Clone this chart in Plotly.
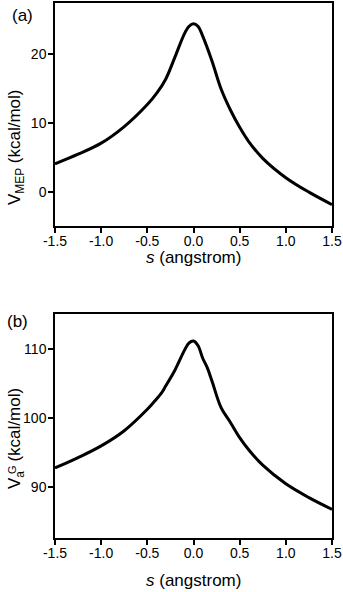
import plotly.graph_objs as go

# reaction coordinate (angstrom) and energies
s_mep = [-1.5, -1.25, -1.0, -0.75, -0.5, -0.4, -0.3, -0.2, -0.1, -0.05, 0.0,
         0.05, 0.1, 0.2, 0.3, 0.4, 0.5, 0.6, 0.75, 1.0, 1.25, 1.5]
v_mep = [4.1, 5.5, 7.1, 9.5, 12.7, 14.3, 16.4, 19.6, 22.9, 24.0, 24.4,
         24.0, 22.6, 19.0, 14.9, 11.9, 9.4, 7.3, 4.9, 2.1, 0.0, -1.8]

s_vag = [-1.5, -1.25, -1.0, -0.75, -0.5, -0.4, -0.35, -0.3, -0.2, -0.1, -0.05,
         0.0, 0.05, 0.1, 0.15, 0.2, 0.3, 0.4, 0.5, 0.6, 0.75, 1.0, 1.25, 1.5]
v_vag = [92.8, 94.3, 96.0, 98.2, 101.3, 102.8, 103.6, 104.7, 107.0, 109.8, 110.9,
         111.2, 110.5, 108.7, 107.3, 105.4, 101.5, 99.4, 97.2, 95.4, 93.2, 90.5, 88.5, 86.8]

x_ticks = [-1.5, -1.0, -0.5, 0.0, 0.5, 1.0, 1.5]
x_ticktext = ['-1.5', '-1.0', '-0.5', '0.0', '0.5', '1.0', '1.5']
y_ticks_a = [0, 10, 20]
y_ticks_b = [90, 100, 110]

W, H = 343, 592
L, R, T, B = 55, 11, 3, 54
ph = H - T - B


def py(ypx):
    # pixel row -> paper y
    return (H - B - ypx) / ph


def px(xpx):
    return (xpx - L) / (W - L - R)


font = 'Liberation Sans, Arial, sans-serif'
line_style = dict(color='black', width=3)

fig = go.Figure()
fig.add_trace(go.Scatter(x=s_mep, y=v_mep, mode='lines', line_shape='spline',
                         line=line_style, xaxis='x', yaxis='y'))
fig.add_trace(go.Scatter(x=s_vag, y=v_vag, mode='lines', line_shape='spline',
                         line=line_style, xaxis='x2', yaxis='y2'))

axis_common = dict(
    showline=True, linecolor='black', linewidth=1.5, mirror=True,
    ticks='outside', ticklen=5, tickwidth=1.5, tickcolor='black',
    showgrid=False, zeroline=False, automargin=False,
    tickfont=dict(size=14, color='black', family=font),
)

fig.update_layout(
    width=W, height=H,
    margin=dict(l=L, r=R, t=T, b=B),
    plot_bgcolor='white', paper_bgcolor='white',
    showlegend=False,
    font=dict(family=font, color='black'),
    xaxis=dict(axis_common, domain=[0, 1], anchor='y', range=[-1.5, 1.5],
               tickvals=x_ticks, ticktext=x_ticktext, ticklabelstandoff=-4),
    yaxis=dict(axis_common, domain=[py(226), 1], anchor='x', range=[-4.9, 27.4],
               tickvals=y_ticks_a, ticklabelstandoff=-1),
    xaxis2=dict(axis_common, domain=[0, 1], anchor='y2', range=[-1.5, 1.5],
                tickvals=x_ticks, ticktext=x_ticktext, ticklabelstandoff=-4),
    yaxis2=dict(axis_common, domain=[0, py(314.3)], anchor='x2', range=[82.65, 115.07],
                tickvals=y_ticks_b, ticklabelstandoff=-1),
)

ann = [
    dict(text='(a)', x=px(22), y=py(15)),
    dict(text='(b)', x=px(17), y=py(321)),
    dict(text='<i>s</i> (angstrom)', x=0.5, y=py(257)),
    dict(text='<i>s</i> (angstrom)', x=0.5, y=py(580)),
    dict(text='V<sub>MEP</sub> (kcal/mol)', x=px(16), y=py(147), textangle=-90),
    dict(text='V<sub>a</sub>  (kcal/mol)', x=px(16), y=py(439), textangle=-90),
    dict(text='G', x=px(12), y=py(469), textangle=-90, size=11),
]
for a in ann:
    size = a.pop('size', 17)
    fig.add_annotation(a, xref='paper', yref='paper', showarrow=False,
                       xanchor='center', yanchor='middle',
                       font=dict(size=size, color='black', family=font))

fig.write_html("out.html", config={'displayModeBar': False},
               post_script="document.body.style.margin='0';")
